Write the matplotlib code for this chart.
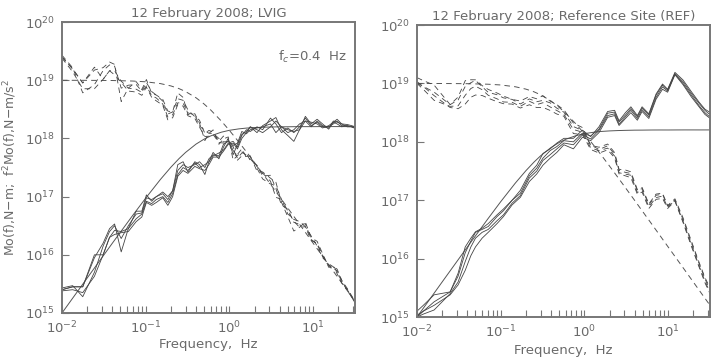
import matplotlib
matplotlib.use('Agg')
import numpy as np
import matplotlib.pyplot as plt

plt.rcParams['lines.scale_dashes'] = False

# model (Brune, fc = 0.4 Hz), log10 of Mo(f)
f_model = [0.01, 0.02, 0.04, 0.07, 0.1, 0.15, 0.2, 0.25, 0.3, 0.4, 0.5, 0.6, 0.8, 1.0,
           1.3, 1.6, 2, 2.5, 3, 4, 5, 6.5, 8, 10, 13, 16, 20, 25, 32]
mo_model = [19.0, 18.999, 18.996, 18.987, 18.974, 18.943, 18.903, 18.857, 18.806, 18.699,
            18.591, 18.488, 18.301, 18.140, 17.937, 17.770, 17.585, 17.397, 17.242, 16.996,
            16.803, 16.577, 16.397, 16.203, 15.976, 15.796, 15.602, 15.408, 15.194]

# LVIG, log10 of f^2 Mo(f), four components
f_lvig = [0.010, 0.0134, 0.0177, 0.0244, 0.031, 0.037, 0.0425, 0.051, 0.062, 0.077, 0.090,
          0.102, 0.118, 0.134, 0.160, 0.184, 0.21, 0.242, 0.28, 0.32, 0.387, 0.44, 0.51,
          0.57, 0.64, 0.75, 0.85, 0.97, 1.11, 1.25, 1.41, 1.6, 1.78, 2.14, 2.5, 3.1, 3.6,
          4.2, 5.0, 5.9, 6.9, 8.1, 9.5, 11.2, 13.0, 15.4, 17.5, 19.4, 22, 25.6, 29, 32]
lvig_a = [15.40, 15.45, 15.45, 15.95, 16.2, 16.45, 16.53, 16.05, 16.45, 16.75, 16.75, 17.03,
          16.92, 17.0, 17.08, 17.0, 17.1, 17.55, 17.6, 17.42, 17.6, 17.55, 17.38, 17.6, 17.76,
          17.65, 17.85, 18.0, 17.72, 17.9, 18.07, 18.12, 18.2, 18.1, 18.22, 18.3, 18.36, 18.15,
          18.05, 17.95, 18.15, 18.38, 18.25, 18.33, 18.25, 18.16, 18.28, 18.33, 18.25, 18.24,
          18.22, 18.2]
lvig_b = [15.43, 15.47, 15.28, 15.7, 16.15, 16.4, 16.5, 16.28, 16.5, 16.7, 16.72, 16.98,
          16.95, 17.0, 17.05, 16.95, 17.1, 17.45, 17.55, 17.5, 17.55, 17.6, 17.5, 17.65, 17.72,
          17.7, 17.9, 17.95, 17.88, 17.92, 18.12, 18.08, 18.15, 18.18, 18.2, 18.25, 18.1, 18.2,
          18.1, 18.15, 18.25, 18.3, 18.2, 18.3, 18.22, 18.2, 18.25, 18.3, 18.22, 18.22, 18.2,
          18.18]
lvig_c = [15.38, 15.40, 15.35, 15.63, 16.0, 16.3, 16.42, 16.4, 16.45, 16.62, 16.7, 16.92,
          16.88, 16.95, 17.0, 16.9, 17.05, 17.38, 17.5, 17.45, 17.58, 17.5, 17.55, 17.6, 17.7,
          17.75, 17.8, 17.92, 17.95, 17.85, 18.05, 18.15, 18.12, 18.2, 18.15, 18.35, 18.25,
          18.1, 18.18, 18.1, 18.2, 18.35, 18.22, 18.28, 18.2, 18.18, 18.3, 18.28, 18.25, 18.2,
          18.2, 18.18]
lvig_d = [15.40, 15.45, 15.45, 16.0, 16.0, 16.3, 16.35, 16.38, 16.4, 16.57, 16.65, 16.9,
          16.85, 16.9, 16.98, 16.85, 17.0, 17.35, 17.45, 17.4, 17.52, 17.48, 17.45, 17.55,
          17.68, 17.68, 17.78, 17.9, 17.92, 17.82, 18.0, 18.1, 18.2, 18.15, 18.1, 18.2, 18.3,
          18.2, 18.15, 18.12, 18.15, 18.3, 18.28, 18.25, 18.18, 18.22, 18.28, 18.25, 18.2,
          18.22, 18.2, 18.17]

# Reference site, log10 of f^2 Mo(f)
f_ref = [0.010, 0.0119, 0.016, 0.0249, 0.031, 0.0377, 0.044, 0.05, 0.06, 0.071, 0.0905,
         0.108, 0.137, 0.172, 0.22, 0.27, 0.32, 0.39, 0.47, 0.57, 0.74, 0.95, 1.19, 1.5, 1.9,
         2.3, 2.6, 3.1, 3.6, 4.3, 4.9, 5.9, 7.2, 8.6, 9.9, 12.1, 15.1, 19, 23.5, 27.6, 32]
ref_a = [15.10, 15.2, 15.38, 15.43, 15.75, 16.2, 16.35, 16.46, 16.52, 16.6, 16.75, 16.85,
         17.0, 17.17, 17.46, 17.6, 17.8, 17.88, 17.98, 18.06, 18.06, 18.2, 18.09, 18.26, 18.52,
         18.54, 18.36, 18.5, 18.6, 18.45, 18.6, 18.48, 18.82, 18.99, 18.9, 19.19, 19.06, 18.86,
         18.68, 18.56, 18.5]
ref_b = [15.0, 15.1, 15.26, 15.43, 15.7, 16.1, 16.3, 16.45, 16.5, 16.55, 16.72, 16.82, 17.0,
         17.12, 17.42, 17.55, 17.72, 17.85, 17.92, 18.02, 18.0, 18.15, 18.1, 18.22, 18.49,
         18.51, 18.34, 18.46, 18.57, 18.43, 18.58, 18.46, 18.8, 18.97, 18.89, 19.17, 19.03,
         18.83, 18.66, 18.54, 18.46]
ref_c = [15.0, 15.05, 15.12, 15.40, 15.6, 15.95, 16.2, 16.35, 16.45, 16.5, 16.65, 16.75,
         16.95, 17.08, 17.38, 17.5, 17.68, 17.78, 17.88, 17.98, 17.95, 18.12, 18.05, 18.2,
         18.45, 18.48, 18.3, 18.43, 18.54, 18.4, 18.55, 18.43, 18.76, 18.94, 18.87, 19.16,
         19.0, 18.8, 18.62, 18.5, 18.42]
ref_d = [15.03, 15.1, 15.2, 15.38, 15.55, 15.8, 16.05, 16.2, 16.35, 16.45, 16.6, 16.72,
         16.92, 17.05, 17.32, 17.45, 17.6, 17.72, 17.82, 17.95, 17.88, 18.08, 18.02, 18.16,
         18.42, 18.45, 18.28, 18.4, 18.5, 18.37, 18.52, 18.4, 18.73, 18.9, 18.85, 19.15,
         18.98, 18.77, 18.6, 18.47, 18.4]

titles = ['12 February 2008; LVIG', '12 February 2008; Reference Site (REF)']
txt = '#6a6a6a'
line_c = '#444444'
model_c = '#555555'
fs = 9.5

fig = plt.figure(figsize=(7.16, 3.6), dpi=100)
ax1 = fig.add_axes([0.0866, 0.1306, 0.409, 0.808])
ax2 = fig.add_axes([0.5824, 0.1194, 0.409, 0.811])


def panel(ax, f, curves, title):
    f = np.array(f)
    fm = np.array(f_model)
    mo = 10 ** np.array(mo_model)
    # model: displacement (dashed) and f^2 Mo (solid)
    ax.plot(fm, mo, color=model_c, lw=0.7, dashes=(4, 3))
    ax.plot(fm, mo * fm ** 2, color=model_c, lw=0.7)
    for c in curves:
        acc = 10 ** np.array(c)
        ax.plot(f, acc, color=line_c, lw=0.6)
        ax.plot(f, acc / f ** 2, color=line_c, lw=0.6, dashes=(4, 3))
    ax.set_xscale('log')
    ax.set_yscale('log')
    ax.set_xlim(0.01, 10 ** 1.5)
    ax.set_ylim(1e15, 1e20)
    ax.set_yticks([1e15, 1e16, 1e17, 1e18, 1e19, 1e20])
    ax.minorticks_off()
    ax.xaxis.set_minor_locator(matplotlib.ticker.LogLocator(base=10, subs=np.arange(2, 10)))
    ax.tick_params(axis='both', which='both', direction='in', length=5, width=0.8,
                   color='#777777', labelcolor=txt, labelsize=fs, pad=5)
    ax.tick_params(axis='y', which='minor', length=0)
    for s in ax.spines.values():
        s.set_color('#777777')
        s.set_linewidth(1.4)
    ax.set_title(title, color=txt, fontsize=fs, pad=4)
    ax.set_xlabel('Frequency,  Hz', color=txt, fontsize=fs)


panel(ax1, f_lvig, [lvig_a, lvig_b, lvig_c, lvig_d], titles[0])
panel(ax2, f_ref, [ref_a, ref_b, ref_c, ref_d], titles[1])
ax1.xaxis.set_label_coords(0.5, -0.085)
ax2.xaxis.set_label_coords(0.5, -0.093)

ax1.set_ylabel('Mo(f),N$-$m;  f$^2$Mo(f),N$-$m/s$^2$', color=txt, fontsize=9)
ax1.yaxis.set_label_coords(-0.148, 0.5)
ax1.text(10, 2.5e19, 'f$_c$=0.4  Hz', color=txt, fontsize=fs, ha='center', va='center')

plt.savefig('out.png', dpi=100)
plt.close()
